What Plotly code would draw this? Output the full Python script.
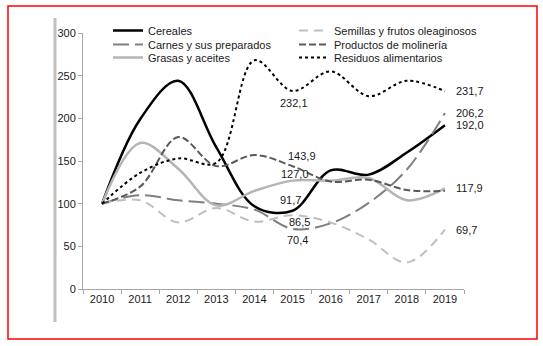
import plotly.graph_objects as go

years = ["2010", "2011", "2012", "2013", "2014", "2015", "2016", "2017", "2018", "2019"]

cereales = [100, 199, 244, 166, 97, 91.7, 139, 134, 160, 192.0]
carnes = [100, 110, 104, 100, 93, 70.4, 77, 101, 140, 206.2]
grasas = [100, 171, 141, 98, 115, 127.0, 127, 130, 104, 117.9]
semillas = [100, 104, 78, 95, 79, 86.5, 78, 58, 31, 69.7]
productos = [100, 120, 178, 144, 157, 143.9, 126, 128, 116, 115]
residuos = [100, 136, 153, 148, 268, 232.1, 255, 226, 244, 231.7]

FONT = "Liberation Sans, Arial, sans-serif"

W, H = 543, 346
ml, mr, mt, mb = 83, 79, 33, 57
pw, ph = W - ml - mr, H - mt - mb

def px(x):
    return (x - ml) / pw

def py(y):
    return (H - mb - y) / ph

fig = go.Figure()

# (name, values, line style, legend id, legend column x px, legend row top px)
series = [
    ("Cereales", cereales, dict(color="#000000", width=2.5, dash="solid"), "legend", 108, 16),
    ("Carnes y sus preparados", carnes, dict(color="#7f7f7f", width=2, dash="16px,6px"), "legend2", 108, 30),
    ("Grasas y aceites", grasas, dict(color="#b5b5b5", width=2.5, dash="solid"), "legend3", 108, 43),
    ("Semillas y frutos oleaginosos", semillas, dict(color="#bfbfbf", width=2, dash="9px,6px"), "legend4", 294, 16),
    ("Productos de molinería", productos, dict(color="#595959", width=2, dash="7px,3px"), "legend5", 294, 30),
    ("Residuos alimentarios", residuos, dict(color="#000000", width=2, dash="dot"), "legend6", 294, 43),
]
legends = {}
for name, vals, line, lg, lx, ly in series:
    fig.add_trace(go.Scatter(x=years, y=vals, name=name, mode="lines",
                             line=dict(shape="spline", smoothing=1, **line),
                             legend=lg))
    legends[lg] = dict(x=px(lx), y=py(ly), xanchor="left", yanchor="top",
                       orientation="v", bgcolor="rgba(0,0,0,0)", itemwidth=30,
                       font=dict(size=11, family=FONT, color="#1a1a1a"))

def fmt(v):
    return f"{v:.1f}".replace(".", ",")

# data labels: (series values, year index, xanchor, xshift, yshift)
labels = [
    (residuos, 5, "center", 1, -12),
    (productos, 5, "center", 9, 10),
    (grasas, 5, "center", 2, 7),
    (cereales, 5, "center", -2, 11),
    (semillas, 5, "center", 7, -7),
    (carnes, 5, "center", 5, -11),
    (residuos, 9, "left", 9, 0),
    (carnes, 9, "left", 9, 0),
    (cereales, 9, "left", 9, 0),
    (grasas, 9, "left", 9, 0),
    (semillas, 9, "left", 9, 0),
]
for vals, i, xa, xs, ys in labels:
    fig.add_annotation(x=i, y=vals[i], xref="x", yref="y", text=fmt(vals[i]), showarrow=False,
                       xanchor=xa, yanchor="middle", xshift=xs, yshift=ys,
                       font=dict(family=FONT, size=11, color="#1a1a1a"))

# red frame and gray side bar
fig.add_shape(type="rect", xref="paper", yref="paper",
              x0=px(8), x1=px(537), y0=py(339), y1=py(6),
              line=dict(color="#ff0000", width=1.5))
fig.add_shape(type="line", xref="paper", yref="paper",
              x0=px(55), x1=px(55), y0=py(322), y1=py(18),
              line=dict(color="#c0c0c0", width=3))

fig.update_layout(
    width=W, height=H,
    margin=dict(l=ml, r=mr, t=mt, b=mb),
    paper_bgcolor="white", plot_bgcolor="white",
    font=dict(family=FONT, size=11, color="#1a1a1a"),
    showlegend=True,
    xaxis=dict(type="category", categoryorder="array", categoryarray=years,
               range=[-0.5, 9.5], autorange=False,
               showgrid=False, showline=True, linecolor="#a6a6a6",
               linewidth=1, ticks="outside", tickson="boundaries", ticklen=4,
               tickcolor="#a6a6a6", tickfont=dict(size=11), zeroline=False),
    yaxis=dict(range=[0, 300], autorange=False, tickvals=[0, 50, 100, 150, 200, 250, 300],
               showgrid=False, showline=True, linecolor="#a6a6a6", linewidth=1,
               ticks="outside", ticklen=4, tickcolor="#a6a6a6",
               tickfont=dict(size=11), zeroline=False),
    **legends,
)

fig.write_html("out.html")
